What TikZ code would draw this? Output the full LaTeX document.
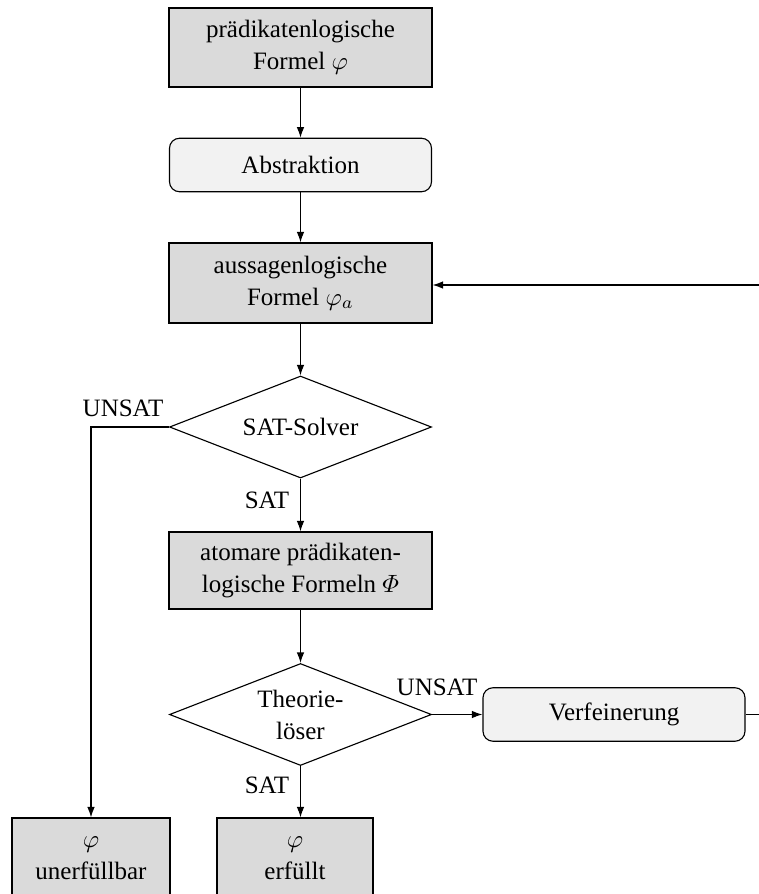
\documentclass[tikz,border=0pt]{standalone}
\usepackage{amsmath}
\usepackage[no-math]{fontspec}
\setmainfont{Liberation Serif}
\usetikzlibrary{shapes.geometric,arrows.meta}
\definecolor{boxgray}{RGB}{218,218,218}
\definecolor{lightgray2}{RGB}{242,242,242}
\begin{document}
\begin{tikzpicture}[x=0.4pt,y=-0.4pt,
  font=\fontsize{10}{12.8}\selectfont,
  box/.style={draw, fill=boxgray, line width=0.45pt, minimum width=105.2pt, align=center, inner sep=0pt},
  rbox/.style={draw, fill=lightgray2, line width=0.45pt, rounded corners=4pt, minimum width=104.8pt, minimum height=21.4pt, align=center, inner sep=0pt},
  dia/.style={draw, fill=white, diamond, aspect=2.57, line width=0.45pt, minimum width=104.8pt, minimum height=40.8pt, inner sep=0pt, align=center},
  lbl/.style={inner sep=0pt},
  arr/.style={line width=0.45pt, -{Latex[length=4.2pt,width=3pt]}},
  ln/.style={line width=0.45pt}]
\useasboundingbox (0,0) rectangle (759,894);
\clip (0,0) rectangle (759,894);
\node[box, minimum height=31.6pt] (b1) at (300.5,47.5) {prädikatenlogische\\Formel $\varphi$};
\node[rbox] (abs) at (300.5,165) {Abstraktion};
\node[box, minimum height=32pt] (b2) at (300.5,283) {aussagenlogische\\Formel $\varphi_a$};
\node[dia] (d1) at (300.5,427) {SAT-Solver};
\node[box, minimum height=30.8pt] (b3) at (300.5,570.5) {atomare prädikaten-\\logische Formeln $\varPhi$};
\node[dia] (d2) at (300.5,714.5) {Theorie-\\löser};
\node[rbox] (ver) at (614,714.5) {Verfeinerung};
\node[box, minimum width=63.2pt, minimum height=32pt] (b4) at (91,858) {$\varphi$\\unerfüllbar};
\node[box, minimum width=62.4pt, minimum height=32pt] (b5) at (295,858) {$\varphi$\\erfüllt};
\node[lbl] (l1) at (123,408) {UNSAT};
\node[lbl] (l2) at (267,500) {SAT};
\node[lbl] (l3) at (437,687) {UNSAT};
\node[lbl] (l4) at (267,785) {SAT};
\draw[arr] (b1) -- (abs);
\draw[arr] (abs) -- (b2);
\draw[arr] (b2) -- (d1);
\draw[arr] (d1) -- (b3);
\draw[arr] (b3) -- (d2);
\draw[arr] (d2.east) -- (ver.west);
\draw[arr] (d1.west) -| (b4.north);
\draw[arr] (d2.south) -- (d2.south |- b5.north);
\coordinate (r1) at (780,714.5);
\coordinate (r2) at (780,285);
\draw[ln] (ver.east) -- (r1) -- (r2);
\draw[arr] (r2) -- (b2.east |- r2);
\end{tikzpicture}
\end{document}
